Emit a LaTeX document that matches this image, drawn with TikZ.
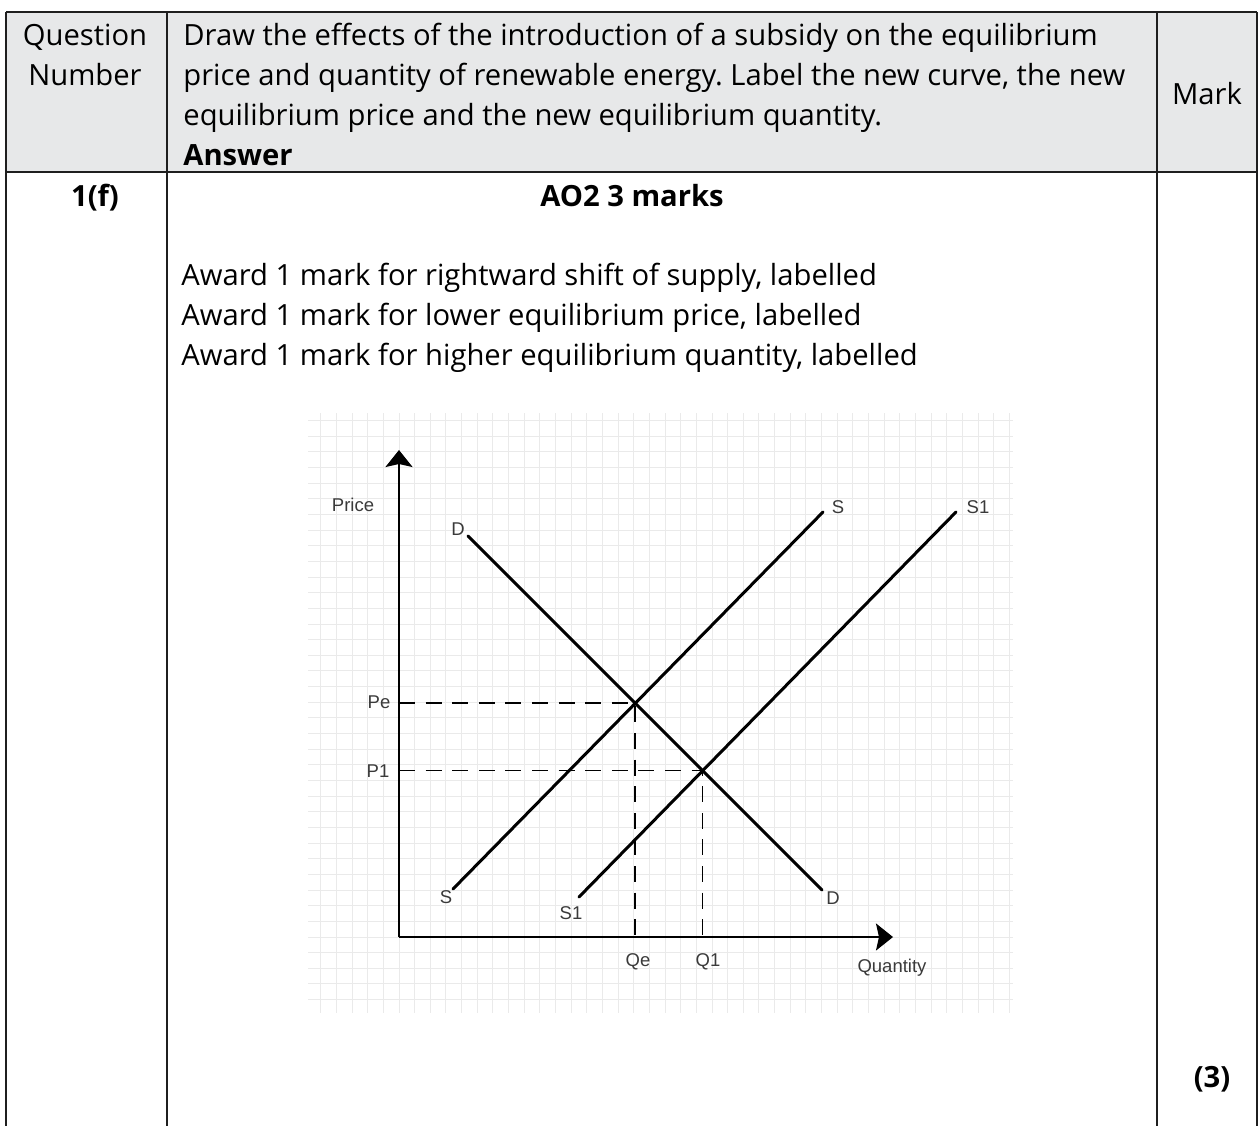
\documentclass[tikz,border=0pt]{standalone}
\usepackage{fontspec}
\setmainfont{Open Sans}
\newfontfamily\chartfont{Liberation Sans}
\usetikzlibrary{arrows.meta,intersections}
\frenchspacing

\definecolor{headgray}{HTML}{E7E8E9}
\definecolor{gridgray}{HTML}{EAEAEA}
\definecolor{labelgray}{HTML}{3A3A3A}

\begin{document}
\begin{tikzpicture}[x=0.5pt,y=-0.5pt,>=Stealth,
  cell/.style={inner sep=0pt,anchor=base west,font=\fontsize{14.6pt}{20pt}\selectfont},
  cellbold/.style={cell,font=\fontsize{14.6pt}{20pt}\selectfont\bfseries},
  ruling/.style={line width=1.1pt,black!88},
  gridline/.style={gridgray,line width=0.5pt},
  axis/.style={line width=0.9pt,-{Stealth[length=8.5pt,width=13.5pt,inset=1.5pt]}},
  curve/.style={line width=1.5pt,line cap=round},
  guide/.style={line width=0.8pt,dash pattern=on 8pt off 5.3pt},
  tag/.style={inner sep=0pt,font=\chartfont\fontsize{9.25pt}{11pt}\selectfont,text=labelgray}]
  \useasboundingbox (0,0) rectangle (1260,1126);

  % table
  \fill[headgray] (6,12) rectangle (1257,172);
  \draw[ruling] (6,12) -- (1257,12);
  \draw[ruling] (6,172) -- (1257,172);
  \foreach \xc in {6,167,1157,1257}
    \draw[ruling] (\xc,12) -- (\xc,1126);

  \node[cell,anchor=base] (qhead1) at (85,45) {Question};
  \node[cell,anchor=base] (qhead2) at (85,85) {Number};
  \node[cell] (qtext1) at (183,45) {Draw the effects of the introduction of a subsidy on the equilibrium};
  \node[cell] (qtext2) at (183,85) {price and quantity of renewable energy. Label the new curve, the new};
  \node[cell] (qtext3) at (183,125) {equilibrium price and the new equilibrium quantity.};
  \node[cellbold] (answer) at (183,165) {Answer};
  \node[cell,anchor=base] (mark) at (1207,104) {Mark};
  \node[cellbold,anchor=base] (qnum) at (95,206) {1(f)};
  \node[cellbold,anchor=base] (ao) at (632,206) {AO2 3 marks};
  \node[cell] (award1) at (181,285) {Award 1 mark for rightward shift of supply, labelled};
  \node[cell] (award2) at (181,325) {Award 1 mark for lower equilibrium price, labelled};
  \node[cell] (award3) at (181,365) {Award 1 mark for higher equilibrium quantity, labelled};
  \node[cellbold,anchor=base] (total) at (1212,1087) {(3)};

  % chart grid
  \begin{scope}
    \clip (308,413) rectangle (1013,1013);
    \foreach \i in {-5,...,39}
      \draw[gridline] (399+15.65*\i,413) -- (399+15.65*\i,1013);
    \foreach \j in {-4,...,33}
      \draw[gridline] (308,937-15.65*\j) -- (1013,937-15.65*\j);
  \end{scope}

  % axes
  \coordinate (O) at (399,937);
  \coordinate (ytip) at (399,450);
  \coordinate (xtip) at (893,937);
  \draw[axis] (O) -- (ytip);
  \draw[axis] (O) -- (xtip);
  \node[tag] (price) at (353,505) {Price};
  \node[tag] (quantity) at (892,968) {Quantity};

  % demand and supply
  \coordinate (dtop) at (468,536);
  \coordinate (dbot) at (822,890);
  \coordinate (sbot) at (453,889);
  \coordinate (stop) at (823,512);
  \coordinate (sonebot) at (579,897);
  \coordinate (sonetop) at (956,512);
  \draw[curve,name path=dem] (dtop) -- (dbot);
  \draw[curve,name path=sup] (sbot) -- (stop);
  \draw[curve,name path=supone] (sonebot) -- (sonetop);
  \node[tag] (dlabtop) at (458,529) {D};
  \node[tag] (dlabbot) at (833,898) {D};
  \node[tag] (slabtop) at (838,507) {S};
  \node[tag] (slabbot) at (446,897) {S};
  \node[tag] (sonelabtop) at (978,507) {S1};
  \node[tag] (sonelabbot) at (571,913) {S1};

  % equilibria
  \path[name intersections={of=dem and sup,by=eq}];
  \path[name intersections={of=dem and supone,by=eqone}];
  \draw[guide] (O |- eq) -- (eq) -- (eq |- O);
  \draw[guide] (O |- eqone) -- (eqone) -- (eqone |- O);
  \node[tag] (pe) at (379,702) {Pe};
  \node[tag] (pone) at (378,771) {P1};
  \node[tag] (qe) at (638,962) {Qe};
  \node[tag] (qone) at (708,962) {Q1};
\end{tikzpicture}
\end{document}
